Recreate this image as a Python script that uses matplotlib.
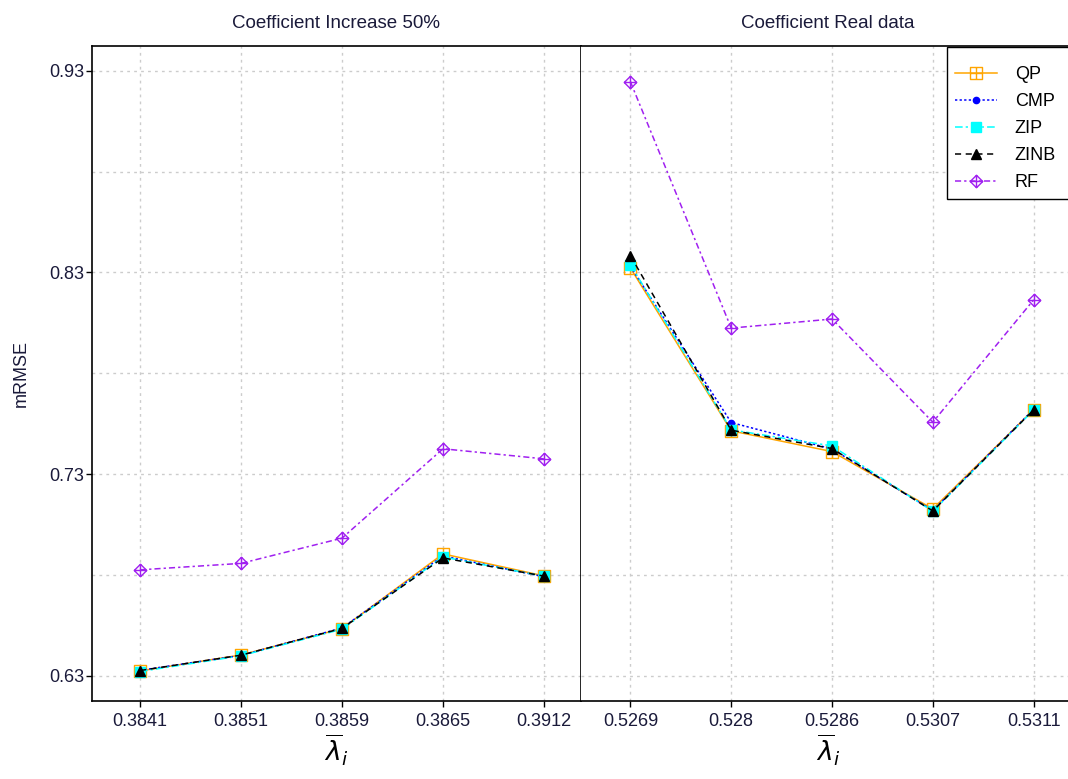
import matplotlib
matplotlib.use('Agg')
import matplotlib.pyplot as plt
import numpy as np
from matplotlib.path import Path
from matplotlib.patches import Rectangle

plt.rcParams['font.family'] = ['Liberation Sans', 'DejaVu Sans']

# lambda-bar values for each scenario
lam_inc = ['0.3841', '0.3851', '0.3859', '0.3865', '0.3912']
lam_real = ['0.5269', '0.528', '0.5286', '0.5307', '0.5311']

# mRMSE, coefficient increased by 50%
qp_inc = [0.6325, 0.6404, 0.6535, 0.6905, 0.6796]
cmp_inc = [0.6328, 0.6402, 0.6538, 0.6895, 0.6792]
zip_inc = [0.6322, 0.6400, 0.6532, 0.6890, 0.6794]
zinb_inc = [0.6327, 0.6403, 0.6536, 0.6885, 0.6795]
rf_inc = [0.6826, 0.6858, 0.6983, 0.7426, 0.7376]

# mRMSE, coefficients from real data
qp_real = [0.8322, 0.7515, 0.7412, 0.7128, 0.7620]
cmp_real = [0.8330, 0.7556, 0.7425, 0.7120, 0.7622]
zip_real = [0.8338, 0.7520, 0.7440, 0.7116, 0.7618]
zinb_real = [0.8383, 0.7518, 0.7427, 0.7118, 0.7619]
rf_real = [0.9245, 0.8024, 0.8069, 0.7558, 0.8164]

# square with a cross, diamond with a cross (R pch 12 / 9)
sq_plus = Path([(-1, -1), (1, -1), (1, 1), (-1, 1), (-1, -1),
                (-1, 0), (1, 0), (0, -1), (0, 1)],
               [Path.MOVETO, Path.LINETO, Path.LINETO, Path.LINETO, Path.CLOSEPOLY,
                Path.MOVETO, Path.LINETO, Path.MOVETO, Path.LINETO])
dia_plus = Path([(0, 1), (1, 0), (0, -1), (-1, 0), (0, 1),
                 (-1, 0), (1, 0), (0, -1), (0, 1)],
                [Path.MOVETO, Path.LINETO, Path.LINETO, Path.LINETO, Path.CLOSEPOLY,
                 Path.MOVETO, Path.LINETO, Path.MOVETO, Path.LINETO])

styles = [
    ('QP', dict(color='#FFA500', ls='-', marker=sq_plus, ms=8, mfc='none', mew=1.0)),
    ('CMP', dict(color='#0000FF', ls=(0, (1.5, 1.5)), marker='o', ms=4.5)),
    ('ZIP', dict(color='#00FFFF', ls=(0, (5, 2, 1.5, 2)), marker='s', ms=7)),
    ('ZINB', dict(color='black', ls=(0, (4, 3)), marker='^', ms=7)),
    ('RF', dict(color='#A020F0', ls=(0, (4, 2, 1.5, 2)), marker=dia_plus, ms=9, mfc='none', mew=1.0)),
]

txt = '#1a1a3a'

fig = plt.figure(figsize=(10.68, 7.79), dpi=100)
ax1 = fig.add_axes([92 / 1068, 78 / 779, 489 / 1068, 655 / 779])
ax2 = fig.add_axes([581 / 1068, 78 / 779, 494 / 1068, 655 / 779])

panels = [
    (ax1, lam_inc, [qp_inc, cmp_inc, zip_inc, zinb_inc, rf_inc], 'Coefficient Increase 50%', (-0.475, 4.366)),
    (ax2, lam_real, [qp_real, cmp_real, zip_real, zinb_real, rf_real], 'Coefficient Real data', (-0.49, 4.41)),
]

for ax, labels, series, title, xl in panels:
    x = np.arange(len(labels))
    for (name, st), y in zip(styles, series):
        ax.plot(x, y, lw=1.1, label=name, **st)
    ax.set_xlim(*xl)
    ax.set_ylim(0.6176, 0.9422)
    ax.set_xticks(x)
    ax.set_xticklabels(labels)
    ax.set_yticks([0.63, 0.73, 0.83, 0.93])
    ax.set_yticks([0.68, 0.78, 0.88], minor=True)
    ax.grid(True, which='both', color='#cccccc', ls=(0, (2, 3)), lw=1.0)
    ax.tick_params(axis='both', which='major', direction='out', length=4, width=1,
                   labelsize=13, colors='black', labelcolor=txt)
    ax.tick_params(axis='x', pad=5)
    ax.tick_params(axis='y', pad=1.5)
    ax.tick_params(which='minor', length=0)
    for sp in ax.spines.values():
        sp.set_linewidth(1.2)
    ax.set_title(title, fontsize=13.5, pad=13, color=txt)
    ax.set_xlabel(r'$\overline{\lambda}_i$', fontsize=19, labelpad=2)

ax1.set_ylabel('mRMSE', fontsize=13, labelpad=14, color=txt)
ax2.tick_params(axis='y', left=False, labelleft=False)
ax2.spines['left'].set_visible(False)

# legend box runs from the panel top down to the entries, past the right edge
box = Rectangle((947 / 1068, 1 - 199 / 779), 130 / 1068, 152 / 779,
                transform=fig.transFigure, facecolor='white',
                edgecolor='black', lw=1.0, zorder=4, clip_on=False)
ax2.add_patch(box)
leg = ax2.legend(loc='lower left', bbox_to_anchor=(947 / 1068, 1 - 199 / 779),
                 bbox_transform=fig.transFigure, fontsize=13, frameon=False,
                 handlelength=2.3, labelspacing=0.55, borderpad=0.45,
                 handletextpad=1.0, borderaxespad=0)
leg.set_zorder(5)

fig.savefig('out.png', dpi=100)
